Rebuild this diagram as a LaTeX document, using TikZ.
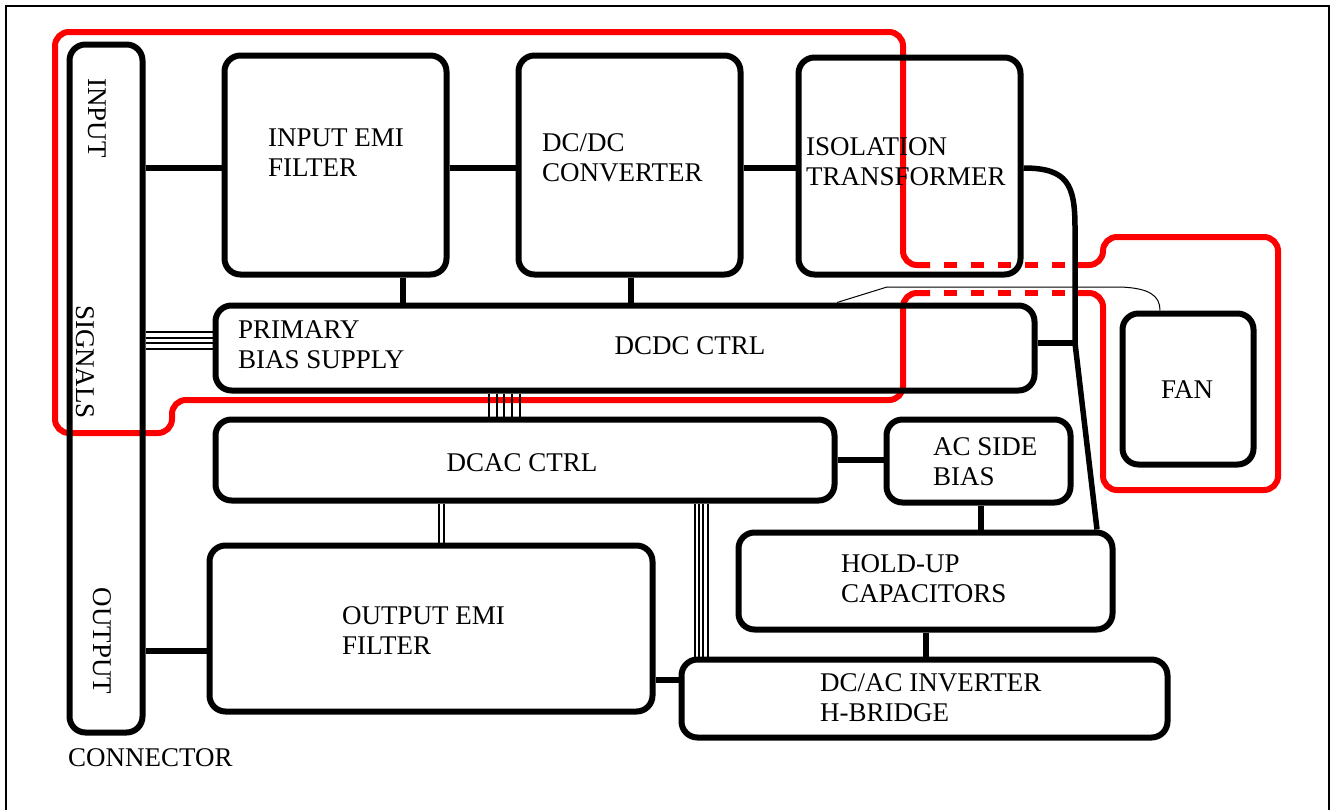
\documentclass[tikz,border=0pt]{standalone}
\usepackage{fontspec}
\setmainfont{Liberation Serif}
\begin{document}
\begin{tikzpicture}[x=1pt, y=-1pt,
                    font=\rmfamily\fontsize{27}{30}\selectfont,
                    blk/.style={draw, line width=6pt, rounded corners=16pt, inner sep=0pt},
                    lbl/.style={inner sep=0pt, align=left, anchor=west},
                    wire/.style={line width=5.5pt},
                    bus/.style={line width=1.2pt},
                    zone/.style={draw=red, line width=6pt, rounded corners=14pt}]
  \useasboundingbox (0,0) rectangle (1330,809);
  \draw[line width=1.5pt] (6,820) -- (6,6) -- (1329,6) -- (1329,820);

  % red outlines
  \draw[zone] (930,265) -- (903,265) -- (903,32) -- (55,32) -- (55,433)
    -- (172,433) -- (172,400) -- (903,400) -- (903,293) -- (930,293);
  \draw[zone] (1078,265) -- (1103,265) -- (1103,237) -- (1278,237)
    -- (1278,490) -- (1103,490) -- (1103,293) -- (1078,293);
  \draw[zone, dash pattern=on 13pt off 14pt, dash phase=13pt] (930,265) -- (1078,265);
  \draw[zone, dash pattern=on 13pt off 14pt, dash phase=13pt] (930,293) -- (1078,293);

  % blocks
  \node[blk, minimum width=73pt,  minimum height=688pt] (conn)  at (106,388.5) {};
  \node[blk, minimum width=222pt, minimum height=219pt] (iemi)  at (335.5,165) {};
  \node[blk, minimum width=222pt, minimum height=219pt] (dcdc)  at (629.5,165) {};
  \node[blk, minimum width=222pt, minimum height=217pt] (iso)   at (909.5,166) {};
  \node[blk, minimum width=819pt, minimum height=85pt]  (pbias) at (625,348) {};
  \node[blk, minimum width=619pt, minimum height=81pt]  (dcac)  at (525,460) {};
  \node[blk, minimum width=184pt, minimum height=83pt]  (acb)   at (978.5,461) {};
  \node[blk, minimum width=374pt, minimum height=97pt]  (hold)  at (925.5,581) {};
  \node[blk, minimum width=443pt, minimum height=166pt] (oemi)  at (431,628.5) {};
  \node[blk, minimum width=486pt, minimum height=78pt]  (inv)   at (924.5,698.5) {};
  \node[blk, minimum width=131pt, minimum height=151pt] (fan)   at (1188,389) {};

  % labels
  \node[rotate=-90, inner sep=0pt] (tin)  at (97,118) {INPUT};
  \node[rotate=-90, inner sep=0pt] (tsig) at (85,362) {SIGNALS};
  \node[rotate=-90, inner sep=0pt] (tout) at (102,641) {OUTPUT};
  \node[lbl] (tconn) at (68,758) {CONNECTOR};
  \node[lbl] (tiemi)  at (268,153) {INPUT EMI\\FILTER};
  \node[lbl] (tdcdc)  at (542,158) {DC/DC\\CONVERTER};
  \node[lbl] (tiso)   at (806,162) {ISOLATION\\TRANSFORMER};
  \node[lbl] (tpbias) at (238,345) {PRIMARY\\BIAS SUPPLY};
  \node[inner sep=0pt] (tctrl) at (690,346) {DCDC CTRL};
  \node[inner sep=0pt] (tdcac) at (522,463) {DCAC CTRL};
  \node[lbl] (tacb)   at (933,462) {AC SIDE\\BIAS};
  \node[lbl] (thold)  at (841,579) {HOLD-UP\\CAPACITORS};
  \node[lbl] (toemi)  at (342,631) {OUTPUT EMI\\FILTER};
  \node[lbl] (tinv)   at (820,698) {DC/AC INVERTER\\H-BRIDGE};
  \node[inner sep=0pt] (tfan) at (1187,390) {FAN};

  % power path
  \draw[wire] (conn.east |- 0,168) -- (iemi.west |- 0,168);
  \draw[wire] (iemi.east |- 0,168) -- (dcdc.west |- 0,168);
  \draw[wire] (dcdc.east |- 0,168) -- (iso.west |- 0,168);
  \draw[wire] (iemi.south -| 403,0) -- (pbias.north -| 403,0);
  \draw[wire] (dcdc.south -| 631,0) -- (pbias.north -| 631,0);
  \coordinate (jct) at (1075,343);
  \draw[wire] (iso.east |- 0,168) .. controls (1068,168) and (1075,185) .. (1075,228)
    -- (jct) -- (hold.north -| 1097,0);
  \draw[wire] (pbias.east |- jct) -- (jct);
  \draw[wire] (dcac.east) -- (acb.west |- dcac.east);
  \draw[wire] (acb.south -| 981,0) -- (hold.north -| 981,0);
  \draw[wire] (hold.south -| 926,0) -- (inv.north -| 926,0);
  \draw[wire] (oemi.east |- 0,680) -- (inv.west |- 0,680);
  \draw[wire] (conn.east |- 0,651) -- (oemi.west |- 0,651);

  % signal buses
  \foreach \y in {332,338,343,349}
    \draw[bus] (conn.east |- 0,\y) -- (pbias.west |- 0,\y);
  \foreach \x in {489,497,504,512,520}
    \draw[bus] (pbias.south -| \x,0) -- (dcac.north -| \x,0);
  \foreach \x in {439,444}
    \draw[bus] (dcac.south -| \x,0) -- (oemi.north -| \x,0);
  \foreach \x in {695,699,703,708}
    \draw[bus] (dcac.south -| \x,0) -- (inv.north -| \x,0);
  \draw[line width=1pt] (pbias.north -| 837,0) -- (887,287) -- (1120,287)
    .. controls (1150,288) and (1160,296) .. (fan.north -| 1160,0);
\end{tikzpicture}
\end{document}
